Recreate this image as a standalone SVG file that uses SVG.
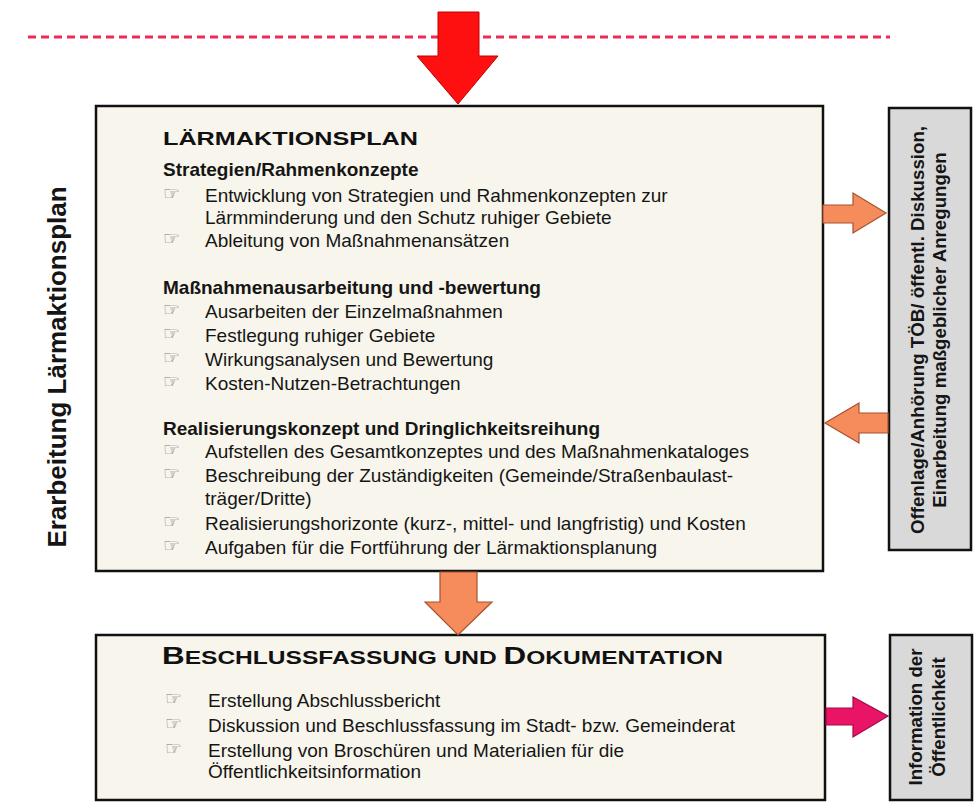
<svg xmlns="http://www.w3.org/2000/svg" width="976" height="810" viewBox="0 0 976 810">
<style>
.box{fill:#f8f5ec;stroke:#111;stroke-width:2.5}
.gbox{fill:#d9d9d9;stroke:#111;stroke-width:2.5}
.t{font-family:"Liberation Sans",Arial,sans-serif;font-size:19px;fill:#151515}
.b{font-family:"Liberation Sans",Arial,sans-serif;font-size:19px;font-weight:bold;fill:#151515}
.ttl{font-family:"Liberation Sans",Arial,sans-serif;font-weight:bold;fill:#111}
.ic{font-family:"DejaVu Sans",sans-serif;font-size:19px;fill:#7a7a7a}
.rot{font-family:"Liberation Sans",Arial,sans-serif;font-size:18.7px;font-weight:bold;fill:#151515;text-anchor:middle}
.side{font-family:"Liberation Sans",Arial,sans-serif;font-size:26px;font-weight:bold;fill:#151515;text-anchor:middle}
.orange{fill:#f68b5c;stroke:#a4532f;stroke-width:1.2}
.pink{fill:#ea1466;stroke:#a30a44;stroke-width:1.2}
.red{fill:#ff1010;stroke:#c00000;stroke-width:1}
</style>
<rect x="0" y="0" width="976" height="810" fill="#ffffff"/>

<g id="label-erarbeitung">
<text class="side" transform="translate(66,367) rotate(-90)">Erarbeitung Lärmaktionsplan</text>
</g>

<g id="node-laermaktionsplan">
<rect class="box" x="96" y="106" width="727" height="465"/>
<text class="ttl" x="163" y="145" font-size="19" textLength="255" lengthAdjust="spacingAndGlyphs">LÄRMAKTIONSPLAN</text>
<text class="b" x="163" y="176">Strategien/Rahmenkonzepte</text>
<text class="ic" x="163" y="200">☞</text>
<text class="t" x="205" y="202">Entwicklung von Strategien und Rahmenkonzepten zur</text>
<text class="t" x="205" y="224">Lärmminderung und den Schutz ruhiger Gebiete</text>
<text class="ic" x="163" y="245">☞</text>
<text class="t" x="205" y="247">Ableitung von Maßnahmenansätzen</text>

<text class="b" x="163" y="294">Maßnahmenausarbeitung und -bewertung</text>
<text class="ic" x="163" y="316">☞</text>
<text class="t" x="205" y="318">Ausarbeiten der Einzelmaßnahmen</text>
<text class="ic" x="163" y="340">☞</text>
<text class="t" x="205" y="342">Festlegung ruhiger Gebiete</text>
<text class="ic" x="163" y="364">☞</text>
<text class="t" x="205" y="366">Wirkungsanalysen und Bewertung</text>
<text class="ic" x="163" y="388">☞</text>
<text class="t" x="205" y="390">Kosten-Nutzen-Betrachtungen</text>

<text class="b" x="163" y="435">Realisierungskonzept und Dringlichkeitsreihung</text>
<text class="ic" x="163" y="456">☞</text>
<text class="t" x="205" y="458">Aufstellen des Gesamtkonzeptes und des Maßnahmenkataloges</text>
<text class="ic" x="163" y="480">☞</text>
<text class="t" x="205" y="482">Beschreibung der Zuständigkeiten (Gemeinde/Straßenbaulast-</text>
<text class="t" x="205" y="505">träger/Dritte)</text>
<text class="ic" x="163" y="528">☞</text>
<text class="t" x="205" y="530">Realisierungshorizonte (kurz-, mittel- und langfristig) und Kosten</text>
<text class="ic" x="163" y="552">☞</text>
<text class="t" x="205" y="554">Aufgaben für die Fortführung der Lärmaktionsplanung</text>
</g>

<g id="node-offenlage">
<rect class="gbox" x="889" y="108" width="82" height="442"/>
<text class="rot" transform="translate(924,330) rotate(-90)">Offenlage/Anhörung TÖB/ öffentl. Diskussion,</text>
<text class="rot" transform="translate(946,330) rotate(-90)">Einarbeitung maßgeblicher Anregungen</text>
</g>

<g id="node-beschluss">
<rect class="box" x="96" y="635" width="729" height="165"/>
<text class="ttl" x="162" y="664" font-size="18" textLength="561" lengthAdjust="spacingAndGlyphs"><tspan font-size="23">B</tspan>ESCHLUSSFASSUNG UND <tspan font-size="23">D</tspan>OKUMENTATION</text>
<text class="ic" x="165" y="705">☞</text>
<text class="t" x="208" y="707">Erstellung Abschlussbericht</text>
<text class="ic" x="165" y="730">☞</text>
<text class="t" x="208" y="732">Diskussion und Beschlussfassung im Stadt- bzw. Gemeinderat</text>
<text class="ic" x="165" y="755">☞</text>
<text class="t" x="208" y="757">Erstellung von Broschüren und Materialien für die</text>
<text class="t" x="208" y="778">Öffentlichkeitsinformation</text>
</g>

<g id="node-information">
<rect class="gbox" x="890" y="635" width="82" height="165"/>
<text class="rot" transform="translate(922,717) rotate(-90)">Information der</text>
<text class="rot" transform="translate(945,717) rotate(-90)">Öffentlichkeit</text>
</g>

<g id="connectors">
<line x1="28" y1="37" x2="890" y2="37" stroke="#ee2a55" stroke-width="3" stroke-dasharray="8 5"/>
<polygon class="red" points="438,12 479,12 479,56 498,56 458,104 417,56 438,56"/>
<polygon class="orange" points="823,205 853,205 853,193 886,213 853,233 853,223 823,223"/>
<polygon class="orange" points="888,413 859,413 859,403 825,423 859,443 859,433 888,433"/>
<polygon class="orange" points="440,572 477,572 477,602 492,602 458,635 425,602 440,602"/>
<polygon class="pink" points="826,708 853,708 853,697 888,716 853,737 853,725 826,725"/>
</g>
</svg>
